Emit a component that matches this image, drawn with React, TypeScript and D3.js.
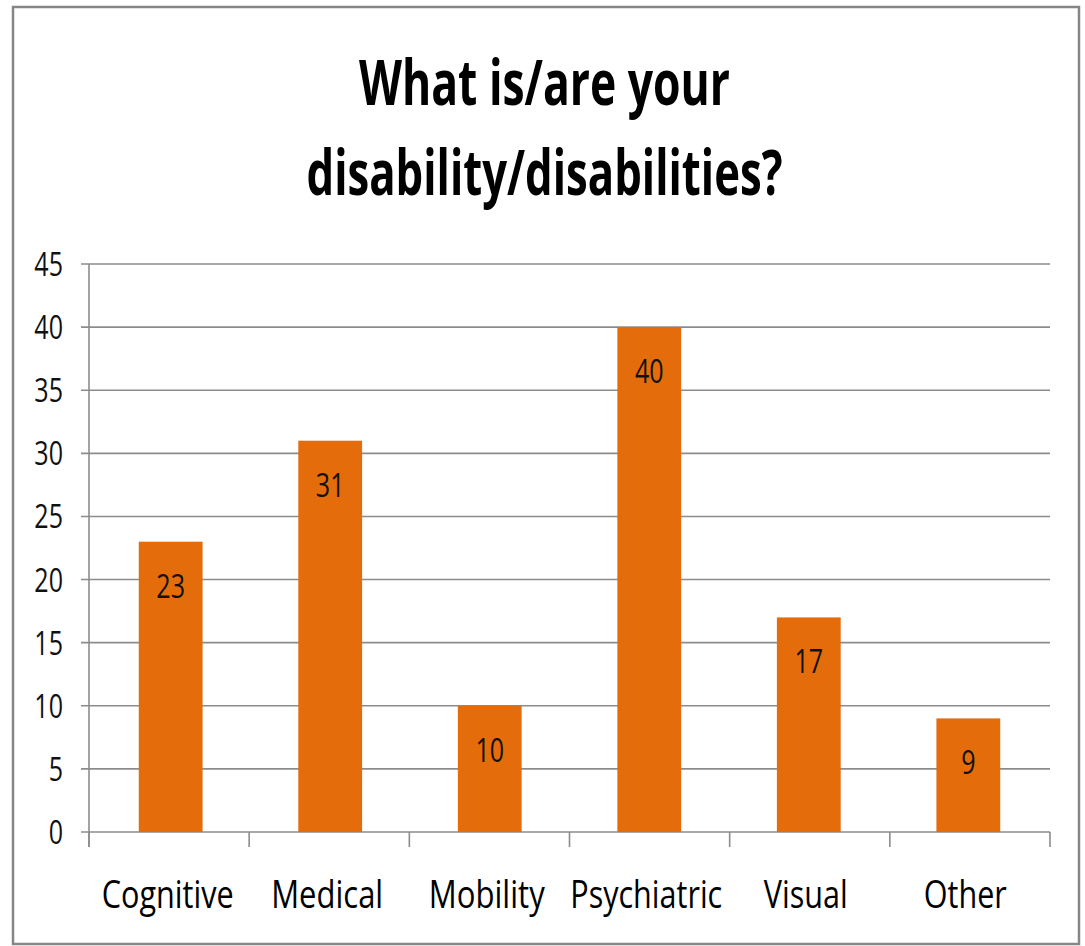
import React from "react";
import * as d3 from "d3";

const categories = ["Cognitive", "Medical", "Mobility", "Psychiatric", "Visual", "Other"];
const values = [23, 31, 10, 40, 17, 9];
const yTicks = [0, 5, 10, 15, 20, 25, 30, 35, 40, 45];
const titleLines = ["What is/are your", "disability/disabilities?"];
const titleWidths = [371, 476];
const categoryWidths = [132, 112, 116, 152, 84, 83];

const W = 1085;
const H = 946;
const plot = { left: 89, right: 1050, top: 264, bottom: 832 };
const BAR = "#E46C0A";
const GRID = "#8c8c8c";
const FONT = "'Open Sans', 'DejaVu Sans', sans-serif";

export default function App() {
  const x = d3
    .scaleBand<string>()
    .domain(categories)
    .range([plot.left, plot.right])
    .paddingInner(0.6)
    .paddingOuter(0.312);
  const y = d3.scaleLinear().domain([0, 45]).range([plot.bottom, plot.top]);
  const step = (plot.right - plot.left) / categories.length;
  const boundaries = d3.range(categories.length + 1).map((i) => plot.left + i * step);
  const numScale = 0.76;

  return (
    <svg
      width={W}
      height={H}
      style={{ position: "absolute", left: 0, top: 0, background: "#fff" }}
      fontFamily={FONT}
    >
      <rect x={0} y={0} width={W} height={H} fill="#fff" />
      <rect x={13} y={7} width={1066} height={937} fill="none" stroke="#868686" strokeWidth={2.5} />

      {titleLines.map((t, i) => (
        <text
          key={t}
          x={W / 2 + 2}
          y={105 + i * 90}
          textAnchor="middle"
          fontSize={63}
          fontWeight={700}
          fill="#000"
          textLength={titleWidths[i]}
          lengthAdjust="spacingAndGlyphs"
        >
          {t}
        </text>
      ))}

      {yTicks.map((t) => (
        <g key={t}>
          <line x1={81} x2={plot.right} y1={y(t)} y2={y(t)} stroke={GRID} strokeWidth={1.6} />
          <text
            transform={`translate(63,${y(t) + 12}) scale(${numScale},1)`}
            textAnchor="end"
            fontSize={33}
            fill="#111"
          >
            {t}
          </text>
        </g>
      ))}

      <line x1={plot.left} x2={plot.left} y1={plot.top} y2={plot.bottom + 15} stroke={GRID} strokeWidth={1.6} />
      {boundaries.map((bx, i) => (
        <line key={i} x1={bx} x2={bx} y1={plot.bottom} y2={plot.bottom + 15} stroke={GRID} strokeWidth={1.6} />
      ))}

      {categories.map((c, i) => {
        const bx = x(c)!;
        const bw = x.bandwidth();
        const cx = bx + bw / 2;
        return (
          <g key={c}>
            <rect x={bx} y={y(values[i])} width={bw} height={plot.bottom - y(values[i])} fill={BAR} />
            <text
              transform={`translate(${cx},${y(values[i]) + 56}) scale(${numScale},1)`}
              textAnchor="middle"
              fontSize={33}
              fill="#111"
            >
              {values[i]}
            </text>
            <text
              x={cx - 3}
              y={908}
              textAnchor="middle"
              fontSize={39}
              fill="#000"
              textLength={categoryWidths[i]}
              lengthAdjust="spacingAndGlyphs"
            >
              {c}
            </text>
          </g>
        );
      })}
    </svg>
  );
}
